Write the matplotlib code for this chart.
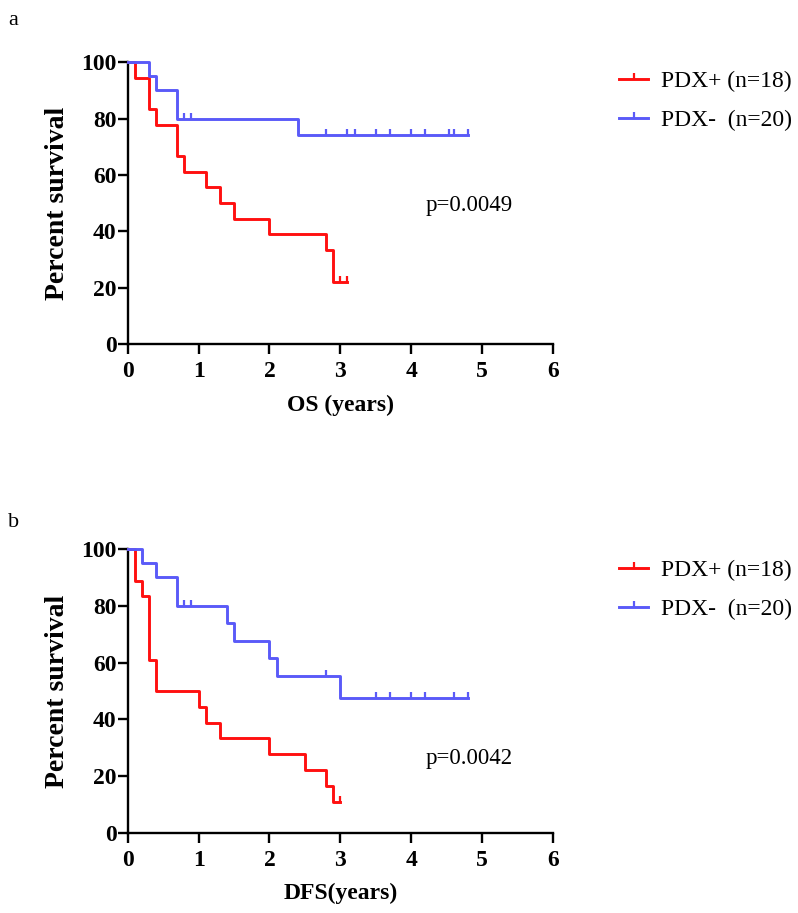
import numpy as np
import matplotlib
matplotlib.use("Agg")
import matplotlib.pyplot as plt
from matplotlib.path import Path
from matplotlib.lines import Line2D

plt.rcParams["font.family"] = ["Liberation Serif", "DejaVu Serif"]

# OS (years) - Kaplan-Meier steps
os_pos_t = [0, 0.1, 0.3, 0.4, 0.7, 0.8, 1.1, 1.3, 1.5, 2.0, 2.8, 2.9, 3.1]
os_pos_s = [100, 94.4, 83.3, 77.8, 66.7, 61.1, 55.6, 50.0, 44.4, 38.9, 33.3, 22.2, 22.2]
os_pos_cens = [3.0, 3.1]
os_neg_t = [0, 0.3, 0.4, 0.7, 2.4, 4.8]
os_neg_s = [100, 95, 90, 80, 74.3, 74.3]
os_neg_cens = [0.8, 0.9, 2.8, 3.1, 3.2, 3.5, 3.7, 4.0, 4.2, 4.53, 4.6, 4.8]

# DFS (years)
dfs_pos_t = [0, 0.1, 0.2, 0.3, 0.4, 1.0, 1.1, 1.3, 2.0, 2.5, 2.8, 2.9, 3.0]
dfs_pos_s = [100, 88.9, 83.3, 61.1, 50.0, 44.4, 38.9, 33.3, 27.8, 22.2, 16.7, 11.1, 11.1]
dfs_pos_cens = [3.0]
dfs_neg_t = [0, 0.2, 0.4, 0.7, 1.4, 1.5, 2.0, 2.1, 3.0, 4.8]
dfs_neg_s = [100, 95, 90, 80, 73.8, 67.7, 61.5, 55.4, 47.5, 47.5]
dfs_neg_cens = [0.8, 0.9, 2.8, 3.5, 3.7, 4.0, 4.2, 4.6, 4.8]

labels = ["PDX+ (n=18)", "PDX-  (n=20)"]
p_values = ["p=0.0049", "p=0.0042"]
x_titles = ["OS (years)", "DFS(years)"]
panel_tags = ["a", "b"]

RED = "#ff1010"
BLUE = "#5a5af8"
tick_mark = Path([(0, 0), (0, 1)])


def surv_at(t, s, pts):
    idx = np.searchsorted(t, pts, side="right") - 1
    return np.array(s)[idx]


def km_panel(ax, curves, p_text, p_y, xtitle, leg_y):
    for t, s, cens, col in curves:
        ax.step(t, s, where="post", color=col, lw=2.1, clip_on=False, zorder=3)
        ax.plot(cens, surv_at(t, s, cens), ls="none", marker=tick_mark,
                ms=9, mew=1.6, color=col, clip_on=False, zorder=3)
    ax.set_xlim(0, 6)
    ax.set_ylim(0, 100)
    ax.set_xticks(range(0, 7))
    ax.set_yticks(range(0, 101, 20))
    for sp in ["top", "right"]:
        ax.spines[sp].set_visible(False)
    for sp in ["left", "bottom"]:
        ax.spines[sp].set_linewidth(1.7)
    ax.tick_params(axis="both", direction="out", length=7, width=1.7,
                   labelsize=17)
    ax.tick_params(axis="x", pad=5)
    ax.tick_params(axis="y", pad=1)
    for lab in ax.get_xticklabels() + ax.get_yticklabels():
        lab.set_fontweight("bold")
    ax.set_ylabel("Percent survival", fontsize=20, fontweight="bold", labelpad=8)
    ax.set_xlabel(xtitle, fontsize=17, fontweight="bold", labelpad=9)
    ax.text(4.2, p_y, p_text, fontsize=16.5, va="center", ha="left")
    handles = [Line2D([], [], color=c[3], lw=2.1, marker=tick_mark, ms=9, mew=1.6)
               for c in curves]
    ax.legend(handles, labels, loc="upper left", bbox_to_anchor=(1.155, leg_y),
              frameon=False, fontsize=17, handlelength=1.25, handletextpad=0.55,
              labelspacing=0.75, borderpad=0, borderaxespad=0, numpoints=1)


fig = plt.figure(figsize=(7.98, 9.13), dpi=100)
ax1 = fig.add_axes([0.160, 0.623, 0.533, 0.309])
ax2 = fig.add_axes([0.160, 0.0876, 0.533, 0.311])

km_panel(ax1, [(os_pos_t, os_pos_s, os_pos_cens, RED),
               (os_neg_t, os_neg_s, os_neg_cens, BLUE)],
         p_values[0], 49.3, x_titles[0], 0.97)
km_panel(ax2, [(dfs_pos_t, dfs_pos_s, dfs_pos_cens, RED),
               (dfs_neg_t, dfs_neg_s, dfs_neg_cens, BLUE)],
         p_values[1], 26.1, x_titles[1], 0.963)

fig.text(0.010, 0.978, panel_tags[0], fontsize=16, va="center")
fig.text(0.010, 0.428, panel_tags[1], fontsize=16, va="center")

fig.savefig("out.png", dpi=100)
